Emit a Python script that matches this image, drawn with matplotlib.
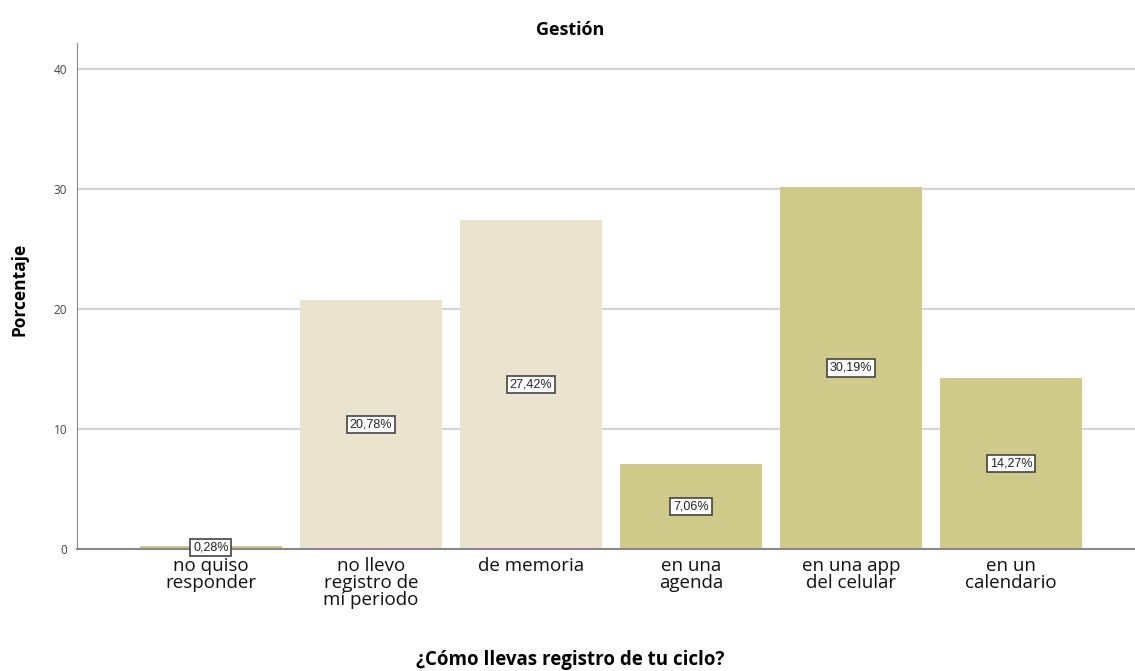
import numpy as np
import matplotlib.pyplot as plt

categorias = ['no quiso\nresponder', 'no llevo\nregistro de\nmí periodo', 'de memoria',
              'en una\nagenda', 'en una app\ndel celular', 'en un\ncalendario']
porcentajes = [0.28, 20.78, 27.42, 7.06, 30.19, 14.27]
etiquetas = ['0,28%', '20,78%', '27,42%', '7,06%', '30,19%', '14,27%']
colores = ['#cfc98a', '#eae4cf', '#eae4cf', '#cfc98a', '#cfc98a', '#cfc98a']

plt.rcParams['font.family'] = ['Open Sans', 'DejaVu Sans']

fig = plt.figure(figsize=(11.35, 6.71), dpi=100)
ax = fig.add_axes([0.0678, 0.1818, 0.9322, 0.7542])

index = np.arange(len(categorias))
ax.set_axisbelow(True)
ax.yaxis.grid(True, color='#d4d4d4', linewidth=1.6)
ax.bar(index, porcentajes, width=0.89, color=colores)

for i, v in enumerate(porcentajes):
    ax.text(i, v / 2, etiquetas[i], ha='center', va='center', fontsize=9,
            family='Liberation Sans', color='#222222',
            bbox=dict(boxstyle='square,pad=0.22', fc='white', ec='#444444', lw=1.2))

ax.set_xlim(-0.8375, 5.775)
ax.set_ylim(0, 42.17)
ax.set_yticks([0, 10, 20, 30, 40])
ax.set_xticks(index)
ax.set_xticklabels(categorias, fontsize=13.5, linespacing=0.92, color='#111111')
ax.tick_params(axis='both', length=0)
ax.tick_params(axis='y', labelsize=8.5, colors='#444444', pad=7)
ax.tick_params(axis='x', pad=6)

for s in ['top', 'right']:
    ax.spines[s].set_visible(False)
ax.spines['left'].set_color('#888888')
ax.spines['bottom'].set_color('#888888')
ax.spines['bottom'].set_linewidth(1.5)

fig.text(570 / 1135, 1 - 30 / 671, 'Gestión', ha='center', va='center',
         fontsize=13, fontweight='bold')
fig.text(20 / 1135, 1 - 289 / 671, 'Porcentaje', ha='center', va='center',
         rotation=90, fontsize=12.5, fontweight='bold')
fig.text(570 / 1135, 1 - 660 / 671, '¿Cómo llevas registro de tu ciclo?', ha='center',
         va='center', fontsize=13.5, fontweight='bold')

plt.savefig('out.png')
